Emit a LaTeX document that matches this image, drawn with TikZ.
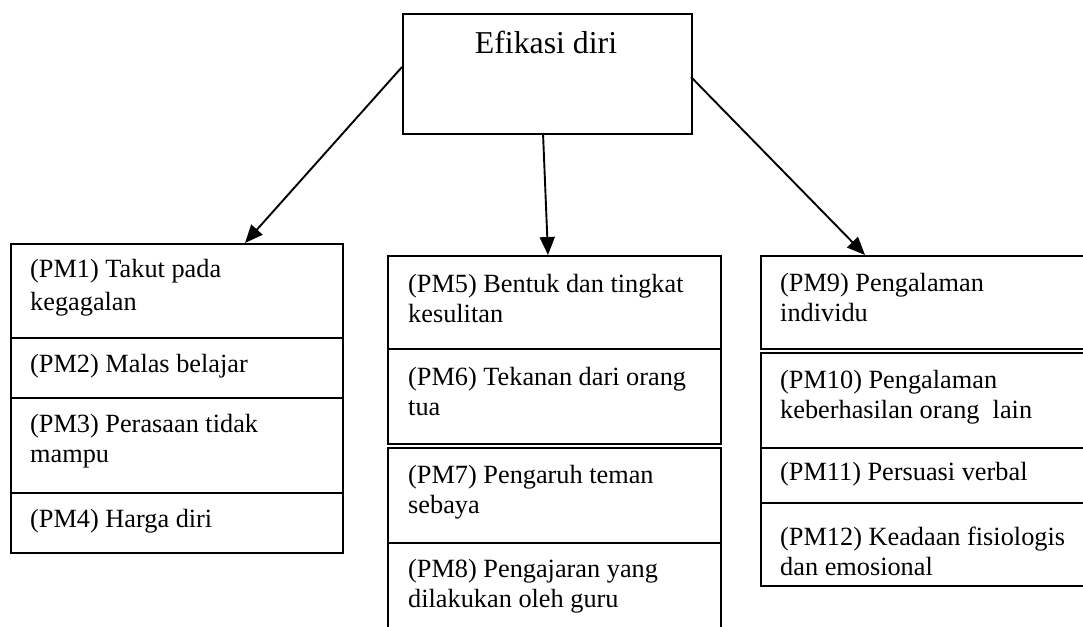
\documentclass[tikz,border=0pt]{standalone}
\usepackage{fontspec}
\setmainfont{Liberation Serif}
\usetikzlibrary{arrows.meta}
\begin{document}
\begin{tikzpicture}[x=1pt,y=-1pt,
  rowbox/.style={draw, line width=1.6pt, rectangle, inner sep=0pt, anchor=north west},
  lbl/.style={anchor=base west, align=left, inner sep=0pt, font=\fontsize{26.3}{30}\selectfont},
  conn/.style={line width=1.9pt, -{Triangle[length=18pt,width=15pt]}}]
\useasboundingbox (0,0) rectangle (1083,626);
% top box
\node[rowbox, minimum width=289pt, minimum height=120pt] (top) at (402,13) {};
\node[anchor=base, inner sep=0pt, font=\fontsize{31.8}{36}\selectfont] (title) at (546,53) {Efikasi diri};
% left column
\node[rowbox, minimum width=332pt, minimum height=94pt] (r1) at (10,243) {};
\node[rowbox, minimum width=332pt, minimum height=60pt] (r2) at (10,337) {};
\node[rowbox, minimum width=332pt, minimum height=95pt] (r3) at (10,397) {};
\node[rowbox, minimum width=332pt, minimum height=60pt] (r4) at (10,492) {};
\node[lbl] (t1) at (30,310) {(PM1) Takut pada\\[3pt]kegagalan};
\node[lbl] (t2) at (30,372) {(PM2) Malas belajar};
\node[lbl] (t3) at (30,462) {(PM3) Perasaan tidak\\mampu};
\node[lbl] (t4) at (30,527) {(PM4) Harga diri};
% middle column
\node[rowbox, minimum width=333pt, minimum height=93pt] (r5) at (387,255) {};
\node[rowbox, minimum width=333pt, minimum height=95pt] (r6) at (387,348) {};
\node[rowbox, minimum width=333pt, minimum height=95pt] (r7) at (387,447) {};
\node[rowbox, minimum width=333pt, minimum height=100pt] (r8) at (387,542) {};
\node[lbl] (t5) at (408,322) {(PM5) Bentuk dan tingkat\\kesulitan};
\node[lbl] (t6) at (408,415) {(PM6) Tekanan dari orang\\tua};
\node[lbl] (t7) at (408,513) {(PM7) Pengaruh teman\\sebaya};
\node[lbl] (t8) at (408,607) {(PM8) Pengajaran yang\\dilakukan oleh guru};
% right column
\node[rowbox, minimum width=340pt, minimum height=93pt] (r9) at (760,255) {};
\node[rowbox, minimum width=340pt, minimum height=95pt] (r10) at (760,352) {};
\node[rowbox, minimum width=340pt, minimum height=55pt] (r11) at (760,447) {};
\node[rowbox, minimum width=340pt, minimum height=83pt] (r12) at (760,502) {};
\node[lbl] (t9) at (780,321) {(PM9) Pengalaman\\individu};
\node[lbl] (t10) at (780,418) {(PM10) Pengalaman\\keberhasilan orang\ \ lain};
\node[lbl] (t11) at (780,480) {(PM11) Persuasi verbal};
\node[lbl] (t12) at (780,575) {(PM12) Keadaan fisiologis\\dan emosional};
% connectors
\coordinate (s1) at (402,67);
\coordinate (e1) at (245,243);
\coordinate (s2) at (543,133);
\coordinate (e2) at (548,255);
\coordinate (s3) at (691,77);
\coordinate (e3) at (865,255);
\draw[conn] (s1) -- (e1);
\draw[conn] (s2) -- (e2);
\draw[conn] (s3) -- (e3);
\end{tikzpicture}
\end{document}
